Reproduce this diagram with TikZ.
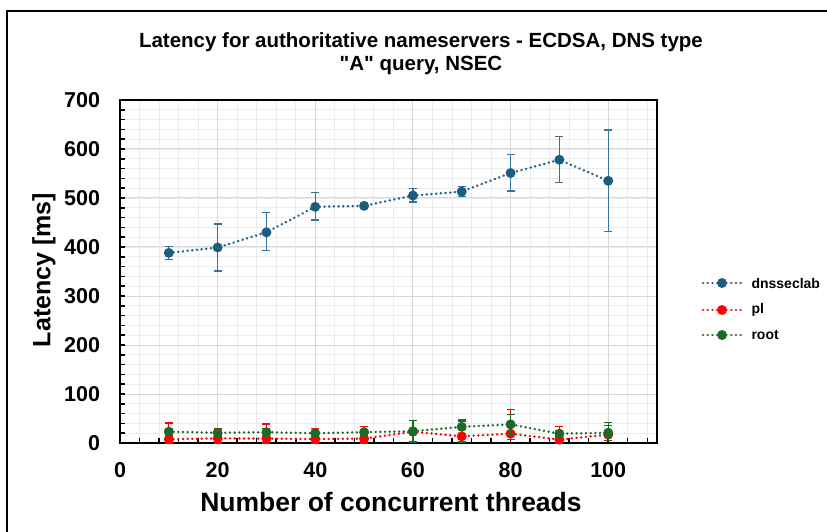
\documentclass[tikz,border=0pt]{standalone}
\usepackage{fontspec}
\setmainfont{Liberation Sans}[Ligatures=TeXOff]
\definecolor{cblue}{RGB}{27,94,128}
\definecolor{cbluee}{RGB}{55,115,150}
\definecolor{cred}{RGB}{255,0,0}
\definecolor{cgreen}{RGB}{26,107,40}
\definecolor{gmaj}{RGB}{215,215,215}
\definecolor{gmin}{RGB}{236,236,236}
\tikzset{
  serline/.style={line width=2.6pt, line cap=round, dash pattern=on 0.1pt off 4.6pt},
  errbar/.style={line width=1.3pt},
  ticklab/.style={font=\fontsize{21.5}{25}\selectfont\bfseries},
  axlab/.style={font=\fontsize{26.5}{30}\selectfont\bfseries},
  ylabst/.style={font=\fontsize{25}{30}\selectfont\bfseries},
  leglab/.style={font=\fontsize{14}{17}\selectfont\bfseries, anchor=west},
  ttl/.style={font=\fontsize{20.5}{23}\selectfont\bfseries, align=center}
}
\begin{document}
\begin{tikzpicture}[x=1pt,y=1pt]
\useasboundingbox (0,0) rectangle (827,-532);
\fill[white] (0,0) rectangle (827,-532);
\draw[line width=1.1pt] (7,-532) -- (7,-11) -- (827,-11);
\node[ttl] (title) at (421,-53.5) {Latency for authoritative nameservers - ECDSA, DNS type\\"A" query, NSEC};
\node[axlab] (xlab) at (391,-502) {Number of concurrent threads};
\node[ylabst, rotate=90] (ylab) at (44,-270) {Latency [ms]};
\begin{scope}[shift={(120,-443)}, x=4.882pt, y=0.49pt]
  % grid
  \foreach \x in {4,8,...,108} \draw[gmin, line width=0.9pt] (\x,0) -- (\x,700);
  \foreach \y in {20,40,...,680} \draw[gmin, line width=0.9pt] (0,\y) -- (110,\y);
  \foreach \x in {20,40,...,100} \draw[gmaj, line width=1pt] (\x,0) -- (\x,700);
  \foreach \y in {100,200,...,600} \draw[gmaj, line width=1pt] (0,\y) -- (110,\y);
  % ticks
  \foreach \y in {20,40,...,680} \draw[line width=1.5pt] (0,\y) -- ++(5pt,0);
  \foreach \x in {4,8,...,108} \draw[line width=1.5pt] (\x,0) -- ++(0,5pt);
  % frame
  \draw[line width=2pt] (0,0) rectangle (110,700);
  % tick labels
  \foreach \y in {0,100,...,700} \node[ticklab, anchor=east, xshift=-16.5pt] (yt\y) at (0,\y) {\y};
  \foreach \x in {0,20,...,100} \node[ticklab, yshift=-27pt] (xt\x) at (\x,0) {\x};
  % dnsseclab
  \foreach \x/\lo/\hi in {10/375/401,20/351/447,30/393/470,40/455/511,50/481/488,60/492/519,70/503/523,80/514/589,90/531/625,100/432/639}{
    \draw[cbluee, errbar] (\x,\lo) -- (\x,\hi);
    \draw[cbluee, errbar] (\x,\lo) ++(-4pt,0) -- ++(8pt,0);
    \draw[cbluee, errbar] (\x,\hi) ++(-4pt,0) -- ++(8pt,0);
  }
  \draw[cblue, serline] (10,388) -- (20,399) -- (30,430) -- (40,482) -- (50,484) -- (60,505) -- (70,513) -- (80,551) -- (90,578) -- (100,535);
  \foreach \x/\y in {10/388,20/399,30/430,40/482,50/484,60/505,70/513,80/551,90/578,100/535}
    \fill[cblue] (\x,\y) circle[radius=5pt];
  % pl
  \foreach \x/\lo/\hi in {10/0/41,20/0/29,30/0/39,40/0/29,50/0/33,60/2/30,70/2/48,80/7/69,90/0/33,100/5/36}{
    \draw[cred, errbar] (\x,\lo) -- (\x,\hi);
    \draw[cred, errbar] (\x,\lo) ++(-4pt,0) -- ++(8pt,0);
    \draw[cred, errbar] (\x,\hi) ++(-4pt,0) -- ++(8pt,0);
  }
  \draw[cred, serline] (10,7.5) -- (20,9.5) -- (30,9) -- (40,8) -- (50,9) -- (60,23) -- (70,13.6) -- (80,19) -- (90,7) -- (100,17);
  \foreach \x/\y in {10/7.5,20/9.5,30/9,40/8,50/9,60/23,70/13.6,80/19,90/7,100/17}
    \fill[cred] (\x,\y) circle[radius=5pt];
  % root
  \foreach \x/\lo/\hi in {10/15/30,20/15/27,30/15/29,40/15/26,50/15/28,60/2/46,70/2/45,80/18/58,90/12/26,100/5/42}{
    \draw[cgreen, errbar] (\x,\lo) -- (\x,\hi);
    \draw[cgreen, errbar] (\x,\lo) ++(-4pt,0) -- ++(8pt,0);
    \draw[cgreen, errbar] (\x,\hi) ++(-4pt,0) -- ++(8pt,0);
  }
  \draw[cgreen, serline] (10,23) -- (20,21) -- (30,22) -- (40,20) -- (50,22) -- (60,24) -- (70,33) -- (80,38) -- (90,19) -- (100,21);
  \foreach \x/\y in {10/23,20/21,30/22,40/20,50/22,60/24,70/33,80/38,90/19,100/21}
    \fill[cgreen] (\x,\y) circle[radius=5pt];
\end{scope}
% legend
\coordinate (la1) at (703,-283); \coordinate (lb1) at (741,-283);
\coordinate (la2) at (703,-310); \coordinate (lb2) at (741,-310);
\coordinate (la3) at (703,-335); \coordinate (lb3) at (741,-335);
\draw[cblue, serline] (la1) -- (lb1);
\fill[cblue] (722,-283) circle[radius=5pt];
\node[leglab] (l1) at (748,-283) {dnsseclab};
\draw[cred, serline] (la2) -- (lb2);
\fill[cred] (722,-310) circle[radius=5pt];
\node[leglab] (l2) at (748,-310) {pl};
\draw[cgreen, serline] (la3) -- (lb3);
\fill[cgreen] (722,-335) circle[radius=5pt];
\node[leglab] (l3) at (748,-335) {root};
\end{tikzpicture}
\end{document}
